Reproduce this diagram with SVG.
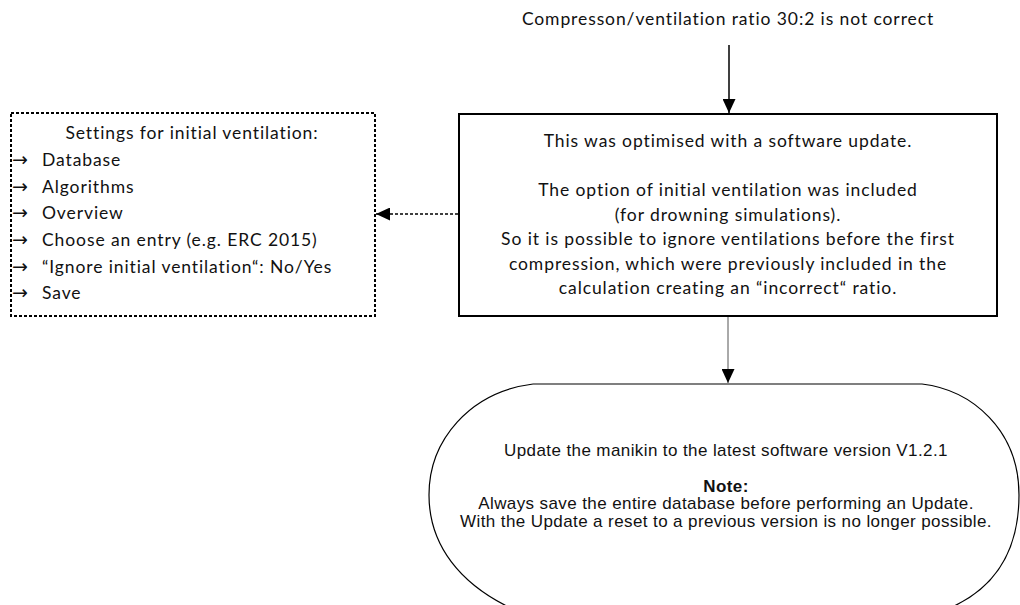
<svg xmlns="http://www.w3.org/2000/svg" width="1020" height="605" viewBox="0 0 1020 605">
<defs>
<style>
.c{font-family:Lato,"Open Sans","Liberation Sans",sans-serif;font-size:17.5px;letter-spacing:0.9px;fill:#111}
.a{font-family:"Liberation Sans",Arial,sans-serif;font-size:17px;letter-spacing:0.4px;fill:#111}
.mid{text-anchor:middle}
.ar{font-family:"DejaVu Sans",sans-serif;font-size:19px;letter-spacing:0}
</style>
<marker id="ah" viewBox="0 0 10 10" refX="10" refY="5" markerWidth="14" markerHeight="13" markerUnits="userSpaceOnUse" orient="auto" preserveAspectRatio="none">
<path d="M0,0 L10,5 L0,10 Z" fill="#000"/>
</marker>
</defs>
<rect width="1020" height="605" fill="#fff"/>
<g id="title">
<text class="c mid" x="728" y="25">Compresson/ventilation ratio 30:2 is not correct</text>
</g>
<g id="main">
<rect x="459" y="114" width="538" height="202" fill="#fff" stroke="#000" stroke-width="2"/>
<text class="c mid" x="728" y="147">This was optimised with a software update.</text>
<text class="c mid" x="728" y="196">The option of initial ventilation was included</text>
<text class="c mid" x="728" y="221">(for drowning simulations).</text>
<text class="c mid" x="728" y="245">So it is possible to ignore ventilations before the first</text>
<text class="c mid" x="728" y="270">compression, which were previously included in the</text>
<text class="c mid" x="728" y="294">calculation creating an “incorrect“ ratio.</text>
</g>
<g id="settings">
<rect x="11" y="113" width="364" height="203" fill="#fff" stroke="#000" stroke-width="2" stroke-dasharray="3,2"/>
<text class="c mid" x="192" y="139">Settings for initial ventilation:</text>
<text class="c" x="12" y="166"><tspan class="ar">→</tspan><tspan x="42">Database</tspan></text>
<text class="c" x="12" y="193"><tspan class="ar">→</tspan><tspan x="42">Algorithms</tspan></text>
<text class="c" x="12" y="219"><tspan class="ar">→</tspan><tspan x="42">Overview</tspan></text>
<text class="c" x="12" y="246"><tspan class="ar">→</tspan><tspan x="42">Choose an entry (e.g. ERC 2015)</tspan></text>
<text class="c" x="12" y="273"><tspan class="ar">→</tspan><tspan x="42">“Ignore initial ventilation“: No/Yes</tspan></text>
<text class="c" x="12" y="299"><tspan class="ar">→</tspan><tspan x="42">Save</tspan></text>
</g>
<g id="update">
<path d="M533,384 H922 C972,390 1019,430 1019,495 C1019,550 995,590 945,610 M533,384 C470,392 429,440 429,495 C429,545 460,585 515,610" fill="none" stroke="#000" stroke-width="1.2"/>
<text class="a mid" x="726" y="456">Update the manikin to the latest software version V1.2.1</text>
<text class="a mid" x="726" y="492" font-weight="bold">Note:</text>
<text class="a mid" x="726" y="509">Always save the entire database before performing an Update.</text>
<text class="a mid" x="726" y="527">With the Update a reset to a previous version is no longer possible.</text>
</g>
<g id="connectors">
<line x1="729" y1="45" x2="729" y2="113" stroke="#000" stroke-width="1.5" marker-end="url(#ah)"/>
<line x1="458" y1="214" x2="376" y2="214" stroke="#000" stroke-width="1.5" stroke-dasharray="3,2" marker-end="url(#ah)"/>
<line x1="728" y1="317" x2="728" y2="383" stroke="#555" stroke-width="1" marker-end="url(#ah)"/>
</g>
</svg>
